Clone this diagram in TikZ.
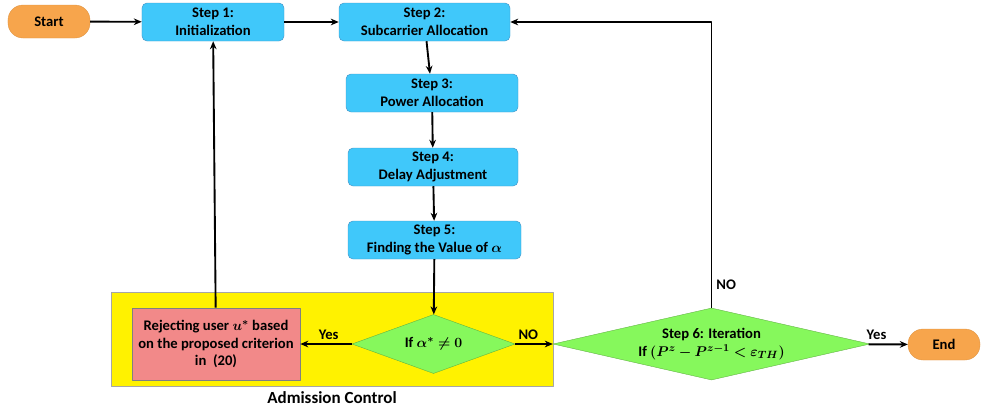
\documentclass[tikz,border=0pt]{standalone}
\usepackage{bm}
\usepackage{fontspec}
\setmainfont{Carlito}
\usetikzlibrary{shapes.geometric,arrows.meta}
\definecolor{stepblue}{RGB}{64,200,250}
\definecolor{stepedge}{RGB}{70,150,200}
\definecolor{termorange}{RGB}{247,165,76}
\definecolor{decgreen}{RGB}{134,248,92}
\definecolor{rejred}{RGB}{242,137,137}
\begin{document}
\begin{tikzpicture}[x=0.03cm,y=-0.03cm,>={Stealth[length=2.4mm,width=2mm]},
	font=\fontsize{12.5}{15}\selectfont\bfseries, line join=round,
	term/.style={rectangle,rounded corners=0.45cm,fill=termorange,draw=termorange!90!black,line width=0.3pt,align=center},
	stepbox/.style={rectangle,rounded corners=0.15cm,fill=stepblue,draw=stepedge,line width=0.4pt,align=center,minimum height=1.14cm},
	dec/.style={diamond,fill=decgreen,draw=decgreen!70!black,line width=0.3pt,inner sep=0pt},
	flow/.style={->,line width=1.6pt}]
	\useasboundingbox (0,0) rectangle (981,413);
	%admission control area
	\node (adm) at (332,339) [rectangle,fill=yellow,draw=gray!70,line width=0.5pt,minimum width=13.26cm,minimum height=2.82cm,
		label={[font=\fontsize{14.5}{16}\selectfont\bfseries,inner sep=4.5pt]below:Admission Control}] {};
	%nodes
	\node (start) at (49,21.5) [term,minimum width=2.46cm,minimum height=0.99cm] {Start};
	\node (s1) at (213,22) [stepbox,minimum width=4.26cm] {Step 1:\\Initialization};
	\node (s2) at (424.5,22) [stepbox,minimum width=5.13cm] {Step 2:\\Subcarrier Allocation};
	\node (s3) at (432,93) [stepbox,minimum width=5.16cm] {Step 3:\\Power Allocation};
	\node (s4) at (433,167) [stepbox,minimum width=5.1cm] {Step 4:\\Delay Adjustment};
	\node (s5) at (434.5,240) [stepbox,minimum width=5.19cm] {Step 5:\\Finding the Value of $\bm{\alpha}$};
	\node (rej) at (216,344) [rectangle,fill=rejred,draw=gray,line width=0.5pt,minimum width=5.04cm,minimum height=2.16cm,align=center]
		{Rejecting user $\bm{u^{*}}$ based\\on the proposed criterion\\in~ (20)};
	\node (d1) at (433.5,344) [dec,minimum width=4.89cm,minimum height=1.77cm,label={center:If $\bm{\alpha^{*}\neq 0}$}] {};
	\node (d2) at (711.5,344) [dec,minimum width=9.51cm,minimum height=2.16cm,
		label={[align=center]center:Step 6: Iteration\\If $\bm{(P^{z}-P^{z-1}<\varepsilon_{TH})}$}] {};
	\node (end) at (944,344.5) [term,minimum width=2.16cm,minimum height=0.93cm] {End};
	%connectors
	\draw[flow] (start) -- (s1);
	\draw[flow] (s1) -- (s2);
	\draw[flow] (s2) -- (s3);
	\draw[flow] (s3) -- (s4);
	\draw[flow] (s4) -- (s5);
	\draw[flow] (s5) -- (d1);
	\draw[flow] (d1) -- node[above,pos=0.45]{Yes} (rej);
	\draw[flow] (d1) -- node[above,pos=0.35]{NO} (d2);
	\draw[flow] (d2) -- node[above,pos=0.2]{Yes} (end);
	\draw[flow] (d2.north) |- node[right,pos=0.04]{NO} (s2.east);
	\draw[flow] (rej) -- (s1);
\end{tikzpicture}
\end{document}
